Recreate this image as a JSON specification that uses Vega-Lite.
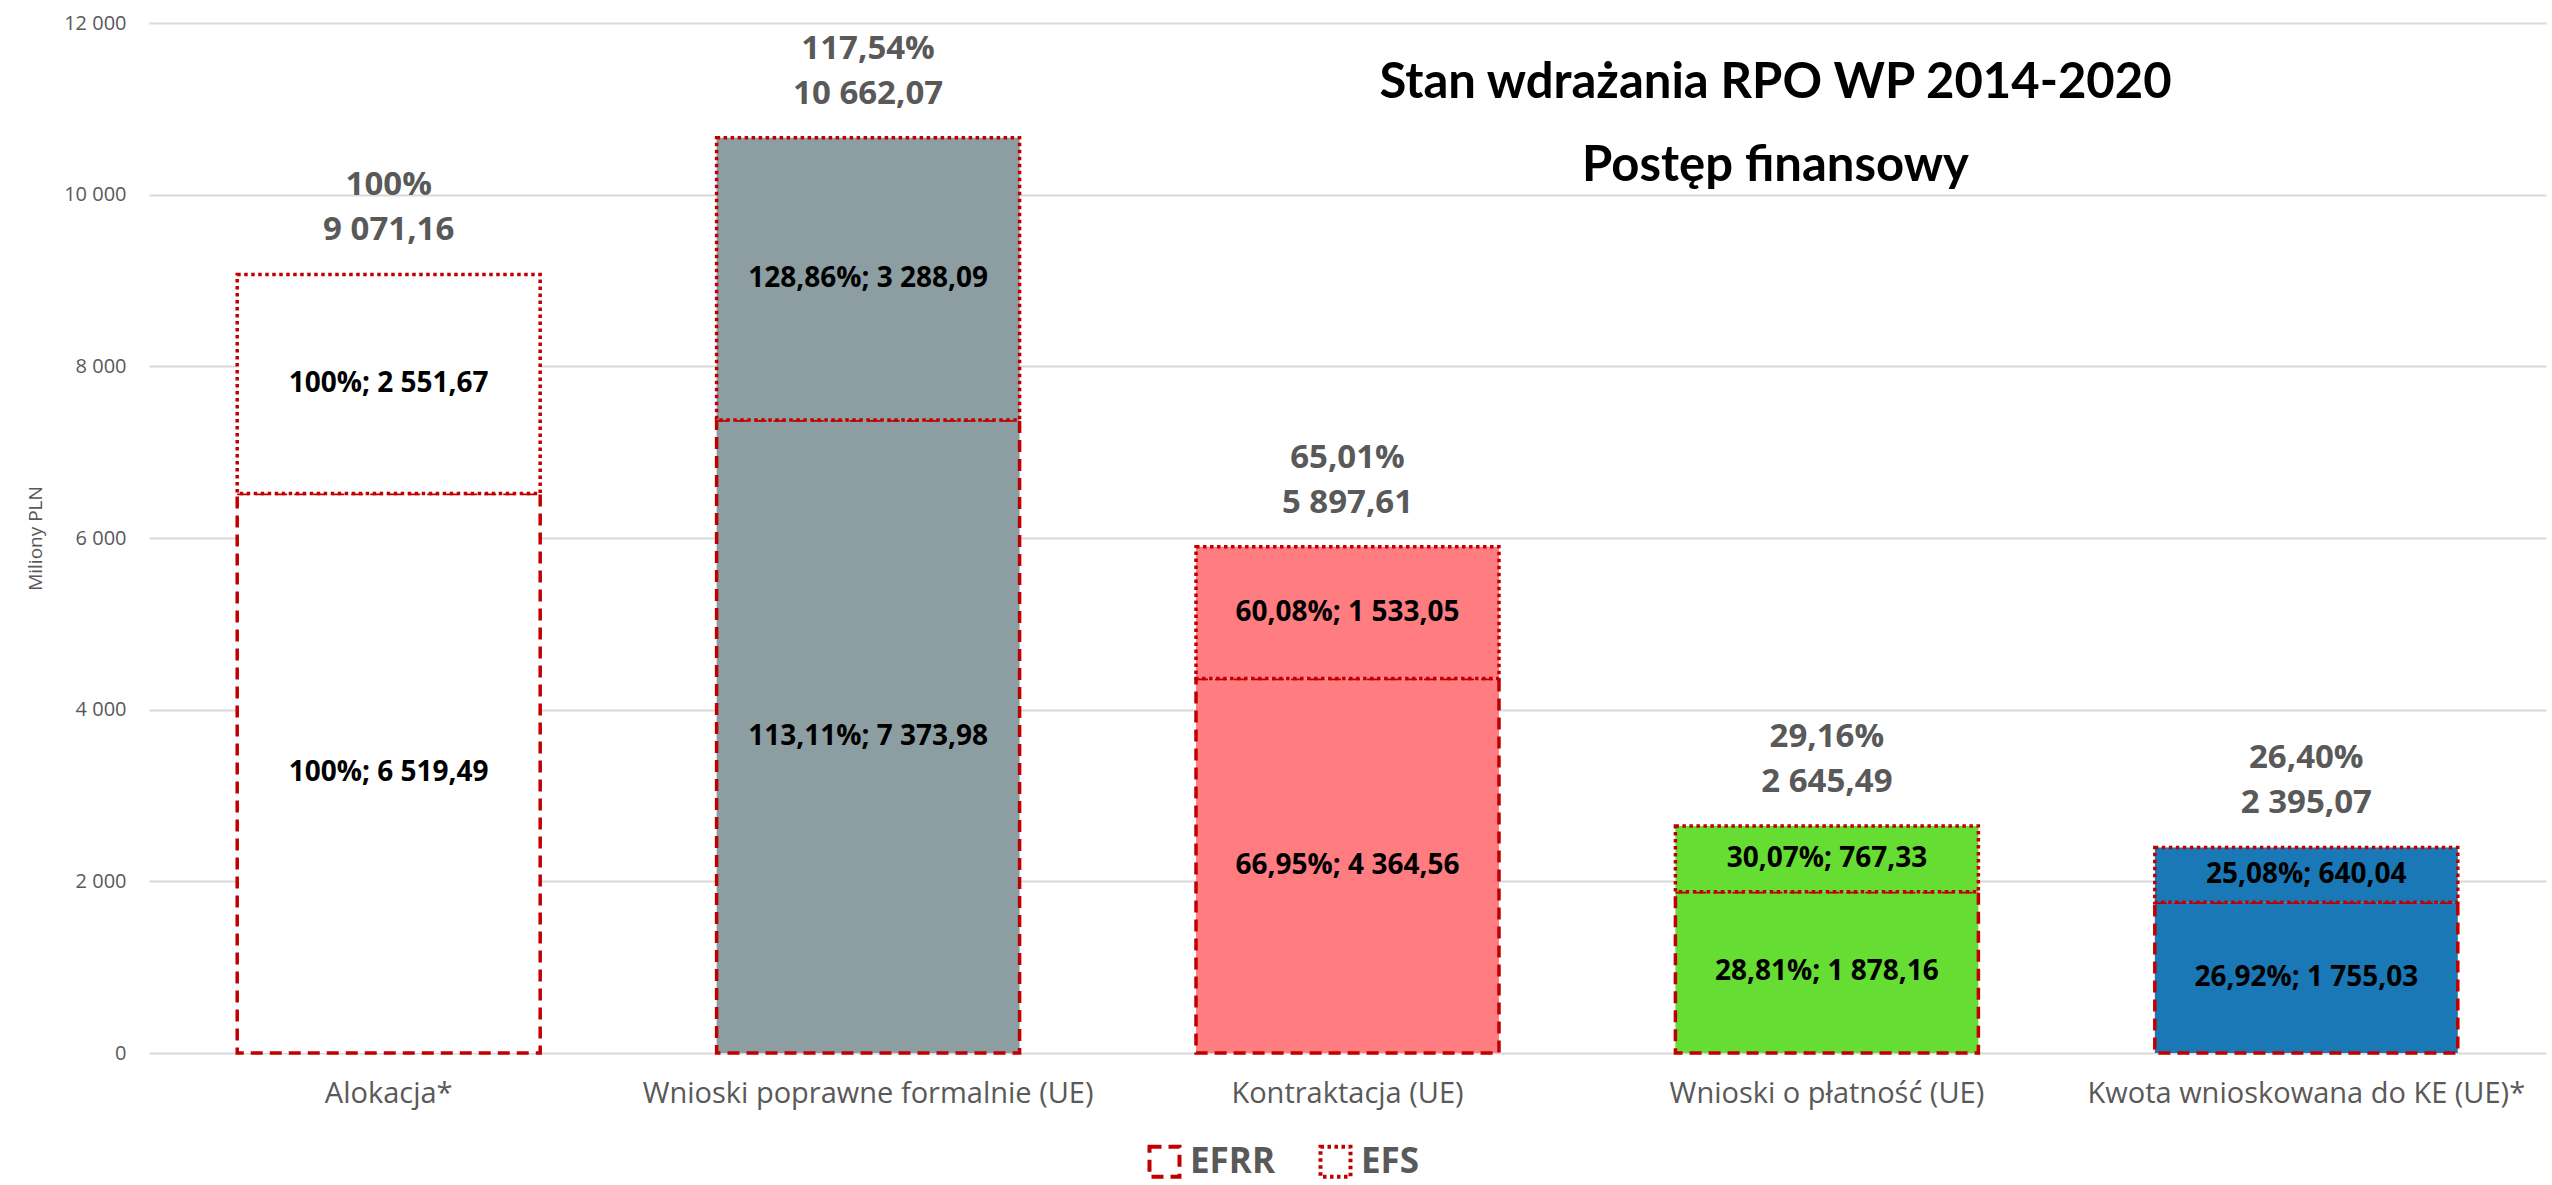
{
  "$schema": "https://vega.github.io/schema/vega-lite/v6.json",
  "width": 2397,
  "height": 1030,
  "autosize": {"type": "none"},
  "padding": {"left": 149, "top": 23, "right": 6, "bottom": 132},
  "background": "white",
  "config": {
    "locale": {"number": {"decimal": ",", "thousands": " ", "grouping": [3], "currency": ["", ""]}},
    "view": {"stroke": null},
    "font": "Open Sans"
  },
  "title": {
    "text": ["Stan wdrażania RPO WP 2014-2020", "Postęp finansowy"],
    "font": "Lato",
    "fontSize": 49,
    "fontWeight": "bold",
    "color": "black",
    "lineHeight": 83,
    "anchor": "middle",
    "frame": "group",
    "dx": 428,
    "offset": -178
  },
  "datasets": {
    "segments": [
      {"category": "Alokacja*", "series": "EFRR", "value": 6519.49, "label": "100%; 6 519,49"},
      {"category": "Alokacja*", "series": "EFS", "value": 2551.67, "label": "100%; 2 551,67"},
      {"category": "Wnioski poprawne formalnie (UE)", "series": "EFRR", "value": 7373.98, "label": "113,11%; 7 373,98"},
      {"category": "Wnioski poprawne formalnie (UE)", "series": "EFS", "value": 3288.09, "label": "128,86%; 3 288,09"},
      {"category": "Kontraktacja (UE)", "series": "EFRR", "value": 4364.56, "label": "66,95%; 4 364,56"},
      {"category": "Kontraktacja (UE)", "series": "EFS", "value": 1533.05, "label": "60,08%; 1 533,05"},
      {"category": "Wnioski o płatność (UE)", "series": "EFRR", "value": 1878.16, "label": "28,81%; 1 878,16"},
      {"category": "Wnioski o płatność (UE)", "series": "EFS", "value": 767.33, "label": "30,07%; 767,33"},
      {"category": "Kwota wnioskowana do KE (UE)*", "series": "EFRR", "value": 1755.03, "label": "26,92%; 1 755,03"},
      {"category": "Kwota wnioskowana do KE (UE)*", "series": "EFS", "value": 640.04, "label": "25,08%; 640,04"}
    ],
    "totals": [
      {"category": "Alokacja*", "total": 9071.16, "label": "100%\n9 071,16"},
      {"category": "Wnioski poprawne formalnie (UE)", "total": 10662.07, "label": "117,54%\n10 662,07"},
      {"category": "Kontraktacja (UE)", "total": 5897.61, "label": "65,01%\n5 897,61"},
      {"category": "Wnioski o płatność (UE)", "total": 2645.49, "label": "29,16%\n2 645,49"},
      {"category": "Kwota wnioskowana do KE (UE)*", "total": 2395.07, "label": "26,40%\n2 395,07"}
    ]
  },
  "layer": [
    {
      "data": {"name": "segments"},
      "mark": {"type": "bar", "stroke": "#C00000", "strokeWidth": 3.5},
      "encoding": {
        "x": {
          "field": "category", "type": "nominal",
          "sort": ["Alokacja*", "Wnioski poprawne formalnie (UE)", "Kontraktacja (UE)", "Wnioski o płatność (UE)", "Kwota wnioskowana do KE (UE)*"],
          "scale": {"paddingInner": 0.368, "paddingOuter": 0.184},
          "axis": {"title": null, "labelFont": "Open Sans", "labelFontSize": 29, "labelColor": "#595959", "ticks": false, "domain": false, "labelPadding": 26, "labelAngle": 0, "grid": false, "labelLimit": 0}
        },
        "y": {
          "field": "value", "type": "quantitative", "stack": "zero",
          "scale": {"domain": [0, 12000], "nice": false},
          "axis": {"title": "Miliony PLN", "titleFont": "Open Sans", "titleFontSize": 19, "titleFontWeight": "normal", "titleColor": "#595959", "titleX": -114, "titleY": 515, "titleAngle": -90, "titleBaseline": "middle", "titleAlign": "center", "values": [0, 2000, 4000, 6000, 8000, 10000, 12000], "format": ",d", "labelFont": "Open Sans", "labelFontSize": 20, "labelColor": "#595959", "labelPadding": 23, "ticks": false, "domain": false, "gridColor": "#D9D9D9", "gridWidth": 2}
        },
        "order": {"field": "series", "type": "nominal", "sort": "ascending"},
        "color": {
          "field": "category", "type": "nominal",
          "scale": {"domain": ["Alokacja*", "Wnioski poprawne formalnie (UE)", "Kontraktacja (UE)", "Wnioski o płatność (UE)", "Kwota wnioskowana do KE (UE)*"], "range": ["#FFFFFF", "#8C9EA2", "#FF7C80", "#66DD33", "#1A78B6"]},
          "legend": null
        },
        "strokeDash": {
          "field": "series", "type": "nominal",
          "scale": {"domain": ["EFRR", "EFS"], "range": [[12, 7], [3.5, 3.5]]},
          "legend": {"title": null, "orient": "none", "legendX": 998, "legendY": 1121, "direction": "horizontal", "symbolType": "square", "symbolSize": 900, "symbolStrokeWidth": 4, "symbolStrokeColor": "#C00000", "symbolFillColor": "white", "labelFont": "Open Sans", "labelFontWeight": "bold", "labelFontSize": 35, "labelColor": "#595959", "labelOffset": 8, "columnPadding": 36, "padding": 0}
        }
      }
    },
    {
      "data": {"name": "segments"},
      "mark": {"type": "text", "font": "Open Sans", "fontWeight": "bold", "fontSize": 28, "color": "black"},
      "encoding": {
        "x": {"field": "category", "type": "nominal", "sort": ["Alokacja*", "Wnioski poprawne formalnie (UE)", "Kontraktacja (UE)", "Wnioski o płatność (UE)", "Kwota wnioskowana do KE (UE)*"]},
        "y": {"field": "value", "type": "quantitative", "stack": "zero", "bandPosition": 0.5},
        "order": {"field": "series", "type": "nominal", "sort": "ascending"},
        "detail": {"field": "series", "type": "nominal"},
        "text": {"field": "label", "type": "nominal"}
      }
    },
    {
      "data": {"name": "totals"},
      "mark": {"type": "text", "font": "Open Sans", "fontWeight": "bold", "fontSize": 33, "color": "#595959", "baseline": "bottom", "lineBreak": "\n", "lineHeight": 45, "dy": -72},
      "encoding": {
        "x": {"field": "category", "type": "nominal", "sort": ["Alokacja*", "Wnioski poprawne formalnie (UE)", "Kontraktacja (UE)", "Wnioski o płatność (UE)", "Kwota wnioskowana do KE (UE)*"]},
        "y": {"field": "total", "type": "quantitative"},
        "text": {"field": "label", "type": "nominal"}
      }
    }
  ]
}
